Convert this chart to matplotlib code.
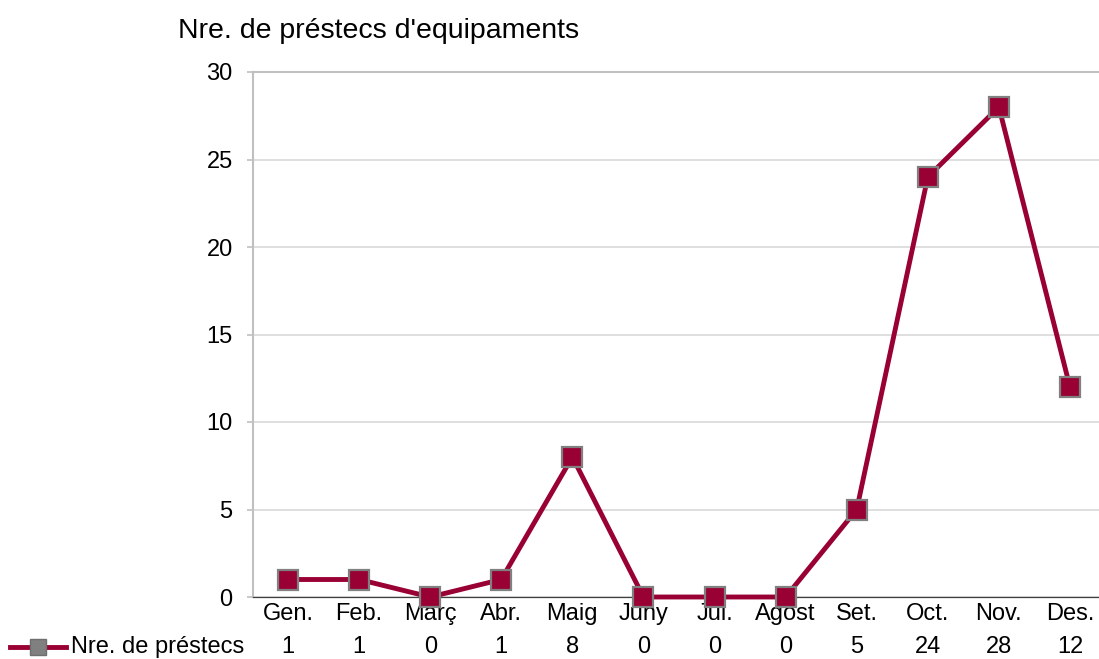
import matplotlib
matplotlib.use("Agg")
import matplotlib.pyplot as plt
from matplotlib.lines import Line2D
from matplotlib.transforms import blended_transform_factory

plt.rcParams['font.family'] = ['Liberation Sans', 'DejaVu Sans']

months = ["Gen.", "Feb.", "Març", "Abr.", "Maig", "Juny", "Jul.", "Agost", "Set.", "Oct.", "Nov.", "Des."]
loans = [1, 1, 0, 1, 8, 0, 0, 0, 5, 24, 28, 12]
series_name = "Nre. de préstecs"
chart_title = "Nre. de préstecs d'equipaments"
yticks = [0, 5, 10, 15, 20, 25, 30]

W, H = 1099, 659
fig = plt.figure(figsize=(W / 100, H / 100), dpi=100)
left_px, right_px, top_px, bottom_px = 252.5, 1105.5, 72, 597
ax = fig.add_axes([left_px / W, (H - bottom_px) / H,
                   (right_px - left_px) / W, (bottom_px - top_px) / H])

FS = 17
line_color = "#990033"
x = list(range(len(months)))
ax.plot(x, loans, color=line_color, lw=3.5, marker="s", markersize=15,
        markerfacecolor=line_color, markeredgecolor="#808080", markeredgewidth=1.6,
        zorder=3, clip_on=False)

ax.set_xlim(-0.5, len(months) - 0.5)
ax.set_ylim(0, 30)
ax.set_yticks(yticks)
ax.set_yticklabels([str(v) for v in yticks], fontsize=FS)
ax.grid(axis="y", color="#d9d9d9", lw=1.2, zorder=0)
ax.set_axisbelow(True)
ax.spines["right"].set_visible(False)
ax.spines["bottom"].set_color("#404040")
ax.spines["bottom"].set_linewidth(0.9)
ax.spines["top"].set_color("#c0c0c0")
ax.spines["top"].set_linewidth(1.5)
ax.spines["left"].set_color("#c0c0c0")
ax.spines["left"].set_linewidth(1.5)
ax.tick_params(axis="y", length=4.3, width=1.2, color="#c0c0c0", pad=10)
ax.set_xticks(x)
ax.set_xticklabels(months, fontsize=FS)
ax.tick_params(axis="x", length=0, pad=4)

# data table row
trans = blended_transform_factory(ax.transData, fig.transFigure)
yrow = 1 - 647 / H
for xi, v in zip(x, loans):
    ax.text(xi, yrow, str(v), transform=trans, ha="center", va="center", fontsize=FS)
fig.text(244 / W, yrow, series_name, ha="right", va="center", fontsize=FS)
fig.add_artist(Line2D([10 / W, 66 / W], [yrow, yrow], transform=fig.transFigure,
                      color=line_color, lw=3.5, marker=None))
fig.add_artist(Line2D([38 / W], [yrow], transform=fig.transFigure, color="#808080",
                      marker="s", markersize=11, markerfacecolor="#808080",
                      markeredgecolor="#6e6e6e", markeredgewidth=1, lw=0))

fig.text(178 / W, 1 - 31 / H, chart_title, ha="left", va="center", fontsize=20.5)

fig.savefig("out.png", dpi=100)
